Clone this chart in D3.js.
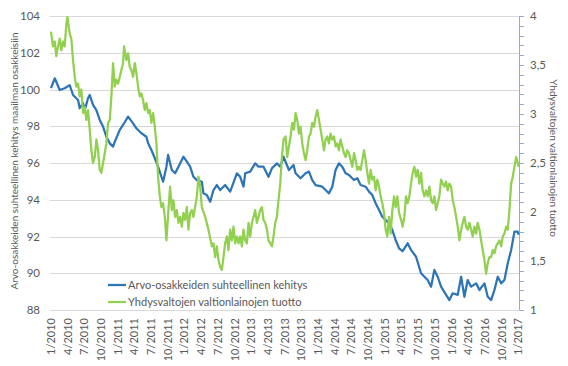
<!DOCTYPE html>
<html><head><meta charset="utf-8">
<script src="https://cdn.jsdelivr.net/npm/d3@7"></script>
<style>
body{margin:0;background:#fff}
svg{display:block}
text{font-family:Lato,"Liberation Sans",sans-serif;fill:#595959}
</style>
</head><body>
<svg id="c" width="568" height="366"></svg>
<script>
const xTickLabels = ["1/2010","4/2010","7/2010","10/2010","1/2011","4/2011","7/2011","10/2011","1/2012","4/2012","7/2012","10/2012","1/2013","4/2013","7/2013","10/2013","1/2014","4/2014","7/2014","10/2014","1/2015","4/2015","7/2015","10/2015","1/2016","4/2016","7/2016","10/2016","1/2017"];
const leftTicks = [88,90,92,94,96,98,100,102,104];
const rightTicks = [1,1.5,2,2.5,3,3.5,4];
const seriesNames = ["Arvo-osakkeiden suhteellinen kehitys","Yhdysvaltojen valtionlainojen tuotto"];
const leftTitle = "Arvo-osakkeiden suhteellinen kehitys maailman osakkeisiin";
const rightTitle = "Yhdysvaltojen valtionlainojen tuotto";

// months since 1/2010
const blueMonths = [0,0.67,0.95,1.56,2.46,3.36,3.96,4.86,5.16,5.76,
6.06,6.65,6.96,7.55,8.15,8.76,9.35,9.95,10.56,11.15,
11.46,12.36,12.95,13.85,14.75,15.34,16.24,17.14,17.45,18.04,
18.65,19.24,20.14,20.74,21.04,21.71,22.3,22.9,23.79,24.41,
25,25.59,26.21,27.1,27.39,28,28.6,29.19,29.8,30.4,
31.29,32.19,33.4,33.99,34.59,34.89,35.79,36.69,37.28,38.18,
39.08,39.69,40.59,41.19,41.78,42.14,42.75,43.58,43.94,44.84,
45.74,46.35,46.94,47.54,48.74,49.33,49.95,50.54,51.13,51.74,
52.34,52.93,53.54,54.44,55.04,55.63,56.53,57.14,57.73,58.33,
58.94,59.53,60.13,60.74,61.33,61.92,62.54,63.18,64.08,64.69,
65.59,66.49,67.09,67.68,68.29,68.88,69.48,70.09,70.99,71.58,
72.18,73.08,73.69,74.28,74.87,75.49,76.39,76.98,77.88,78.47,
79.08,79.68,80.27,80.88,81.47,82.07,82.68,83.27,83.87,84];
const blueValues = [100.08,100.61,100.42,99.97,100.07,100.24,99.70,99.43,98.98,99.25,
98.88,99.52,99.70,99.16,98.88,98.34,97.98,97.43,97.07,96.89,
97.16,97.80,98.07,98.52,98.16,97.89,97.62,97.43,97.07,96.71,
96.26,95.80,94.98,95.80,96.44,95.62,95.44,95.80,96.34,96.07,
95.80,95.25,95.07,94.98,94.35,94.26,93.89,94.53,94.80,94.53,
94.80,94.44,95.44,95.25,94.71,95.44,95.53,95.98,95.80,95.80,
95.25,95.71,95.98,95.80,96.34,96.07,95.62,95.89,95.44,95.17,
95.44,95.53,95.07,94.80,94.71,94.53,94.35,94.71,95.62,95.98,
95.80,95.44,95.35,95.07,95.17,94.80,94.71,94.44,94.26,93.81,
93.44,93.08,92.90,92.72,92.35,91.81,91.36,91.2,91.63,91.27,
90.90,90.00,89.81,89.63,89.27,90.18,89.81,89.27,88.82,88.54,
88.91,88.82,89.81,88.72,89.63,89.27,89.45,89.09,89.45,88.72,
88.54,89.09,89.81,89.45,89.63,90.54,91.27,92.26,92.26,92.1];

const greenMonths = [0,0.36,0.67,0.95,1.26,1.56,1.85,2.16,2.46,2.75,
2.93,3.36,3.65,3.96,4.26,4.55,4.86,5.16,5.45,5.76,
6.06,6.35,6.65,6.96,7.25,7.55,7.86,8.15,8.45,8.76,
9.05,9.35,9.66,9.95,10.25,10.56,10.85,11.15,11.46,11.74,
12.05,12.36,12.64,12.95,13.13,13.54,13.85,14.15,14.44,14.75,
15.05,15.34,15.65,15.95,16.24,16.55,16.85,17.14,17.45,17.75,
18.04,18.35,18.65,18.94,19.24,19.55,19.84,20.14,20.45,20.74,
21.10,21.40,21.71,22.00,22.30,22.61,22.90,23.20,23.51,23.79,
24.10,24.41,24.69,25.00,25.31,25.59,25.90,26.21,26.49,26.80,
27.10,27.70,28.29,28.90,29.19,29.50,29.80,30.09,30.40,30.70,
30.99,31.29,31.60,31.89,32.19,32.50,32.79,33.09,33.40,33.69,
33.99,34.30,34.59,34.89,35.20,35.49,35.79,36.10,36.39,36.69,
37.00,37.28,37.59,37.90,38.18,38.49,38.80,39.08,39.39,39.69,
39.98,40.29,40.59,40.88,41.19,41.49,41.78,42.14,42.45,42.75,
43.04,43.35,43.65,43.94,44.24,44.55,44.84,45.14,45.45,45.74,
46.04,46.35,46.64,46.94,47.25,47.54,47.84,48.15,48.44,48.74,
49.05,49.33,49.64,49.95,50.23,50.54,50.85,51.13,51.44,51.74,
52.03,52.34,52.64,52.93,53.24,53.54,53.83,54.14,54.44,54.73,
55.04,55.34,55.63,55.94,56.24,56.53,56.83,57.14,57.43,57.73,
58.04,58.33,58.63,58.94,59.23,59.53,59.84,60.13,60.43,60.74,
61.03,61.33,61.64,61.92,62.23,62.54,62.90,63.18,63.49,63.79,
64.08,64.39,64.69,64.98,65.29,65.59,65.88,66.19,66.49,66.78,
67.09,67.39,67.68,67.99,68.29,68.58,68.88,69.19,69.48,69.78,
70.09,70.38,70.68,70.99,71.28,71.58,71.89,72.18,72.48,72.79,
73.08,73.38,73.69,73.98,74.28,74.59,74.87,75.18,75.49,75.77,
76.08,76.39,76.67,76.98,77.28,77.57,77.88,78.18,78.47,78.78,
79.08,79.37,79.68,79.98,80.27,80.58,80.88,81.17,81.47,81.78,
82.07,82.37,82.68,82.97,83.27,83.58,83.87,84];
const greenValues = [3.84,3.69,3.74,3.59,3.69,3.77,3.65,3.74,3.69,3.91,
3.99,3.82,3.77,3.55,3.38,3.28,3.31,3.18,3.25,3.01,
3.07,2.94,3.04,2.84,2.63,2.50,2.56,2.74,2.63,2.43,
2.40,2.50,2.60,2.70,2.91,2.94,3.18,3.52,3.28,3.35,
3.31,3.38,3.45,3.52,3.69,3.55,3.62,3.48,3.45,3.38,
3.52,3.42,3.28,3.18,3.21,3.14,3.04,3.11,3.01,3.04,
2.91,3.01,2.87,2.70,2.36,2.16,2.05,2.09,1.95,1.71,
2.02,2.26,2.02,2.12,1.95,2.02,1.89,1.95,1.85,1.99,
1.92,2.05,1.82,1.99,2.02,1.95,2.05,2.16,2.36,2.26,
2.05,1.95,1.82,1.65,1.68,1.54,1.65,1.51,1.44,1.41,
1.54,1.68,1.75,1.61,1.82,1.71,1.85,1.68,1.75,1.68,
1.75,1.65,1.82,1.71,1.68,1.89,1.75,1.89,1.95,2.02,
1.89,1.95,2.02,2.05,1.92,1.89,1.82,1.71,1.68,1.65,
1.75,1.89,1.95,2.12,2.29,2.56,2.74,2.77,2.56,2.67,
2.77,2.91,2.84,3.01,2.94,2.80,2.87,2.70,2.60,2.53,
2.63,2.77,2.80,2.91,2.87,2.97,3.04,2.94,2.84,2.74,
2.63,2.74,2.77,2.70,2.80,2.74,2.77,2.67,2.70,2.63,
2.74,2.67,2.60,2.56,2.63,2.60,2.53,2.46,2.60,2.53,
2.43,2.46,2.43,2.53,2.63,2.53,2.40,2.29,2.43,2.33,
2.36,2.22,2.33,2.26,2.16,2.09,1.99,1.82,1.75,1.95,
1.78,2.02,2.16,2.05,2.16,1.99,1.92,1.85,1.95,2.16,
2.09,2.16,2.29,2.40,2.46,2.36,2.43,2.29,2.40,2.22,
2.16,2.22,2.16,2.26,2.12,2.09,2.16,2.02,2.09,2.16,
2.33,2.29,2.26,2.31,2.22,2.29,2.26,2.12,2.05,1.95,
1.85,1.71,1.82,1.89,1.95,1.85,1.82,1.89,1.82,1.75,
1.85,1.78,1.89,1.82,1.71,1.61,1.51,1.37,1.48,1.54,
1.54,1.61,1.58,1.65,1.68,1.71,1.65,1.75,1.78,1.85,
1.82,2.02,2.29,2.36,2.46,2.56,2.50,2.46];

const svg = d3.select("#c");
const x = d3.scaleLinear().domain([0, 84]).range([51, 518.5]);
const yL = d3.scaleLinear().domain([88, 104]).range([310, 16]);
const yR = d3.scaleLinear().domain([1, 4]).range([310, 16]);

// gridlines
svg.append("g").selectAll("line").data(leftTicks).join("line")
  .attr("x1", 50).attr("x2", 519)
  .attr("y1", d => Math.round(yL(d)) + 0.5).attr("y2", d => Math.round(yL(d)) + 0.5)
  .attr("stroke", "#D9D9D9").attr("stroke-width", 1);

// left tick labels
svg.append("g").selectAll("text").data(leftTicks).join("text")
  .attr("x", 40).attr("y", d => yL(d)).attr("dy", "0.35em")
  .attr("text-anchor", "end").attr("font-size", 11.5).text(d => d);

// right axis
const minorTicks = d3.range(10, 41).map(d => d / 10);
const rAxis = svg.append("g");
rAxis.append("line").attr("x1", 519.5).attr("x2", 519.5).attr("y1", 16).attr("y2", 310)
  .attr("stroke", "#8FAADC").attr("stroke-width", 1);
rAxis.selectAll("line.t").data(minorTicks).join("line").attr("class", "t")
  .attr("x1", 519.5).attr("x2", 524)
  .attr("y1", d => Math.round(yR(d)) + 0.5).attr("y2", d => Math.round(yR(d)) + 0.5)
  .attr("stroke", "#8FAADC").attr("stroke-width", 1);
const fmtR = d => String(d).replace(".", ",");
rAxis.selectAll("text").data(rightTicks).join("text")
  .attr("x", 530).attr("y", d => yR(d)).attr("dy", "0.35em")
  .attr("text-anchor", "start").attr("font-size", 11.5).text(fmtR);

// x tick labels
svg.append("g").selectAll("text").data(xTickLabels).join("text")
  .attr("transform", (d, i) => `translate(${x(i * 3)},318) rotate(-90)`)
  .attr("dy", "0.35em").attr("text-anchor", "end").attr("font-size", 11).text(d => d);

// axis titles
svg.append("text").attr("transform", `translate(14,161) rotate(-90)`)
  .attr("text-anchor", "middle").attr("dy", "0.35em").attr("font-size", 10).text(leftTitle);
svg.append("text").attr("transform", `translate(553,158) rotate(90)`)
  .attr("text-anchor", "middle").attr("dy", "0.35em").attr("font-size", 10).text(rightTitle);

// lines
const blueData = d3.zip(blueMonths, blueValues);
const greenData = d3.zip(greenMonths, greenValues);
const lineL = d3.line().x(d => x(d[0])).y(d => yL(d[1]));
const lineR = d3.line().x(d => x(d[0])).y(d => yR(d[1]));
svg.append("path").datum(blueData).attr("d", lineL)
  .attr("fill", "none").attr("stroke", "#2E75B6").attr("stroke-width", 2.25).attr("stroke-linejoin", "round");
svg.append("path").datum(greenData).attr("d", lineR)
  .attr("fill", "none").attr("stroke", "#92D050").attr("stroke-width", 2.25).attr("stroke-linejoin", "round");

// legend
const colors = ["#2E75B6", "#92D050"];
const leg = svg.append("g");
seriesNames.forEach((n, i) => {
  const yy = 285 + i * 17;
  leg.append("line").attr("x1", 108).attr("x2", 126).attr("y1", yy).attr("y2", yy)
    .attr("stroke", colors[i]).attr("stroke-width", 2.25);
  leg.append("text").attr("x", 128).attr("y", yy).attr("dy", "0.35em")
    .attr("font-size", 11).text(n);
});
</script>
</body></html>
